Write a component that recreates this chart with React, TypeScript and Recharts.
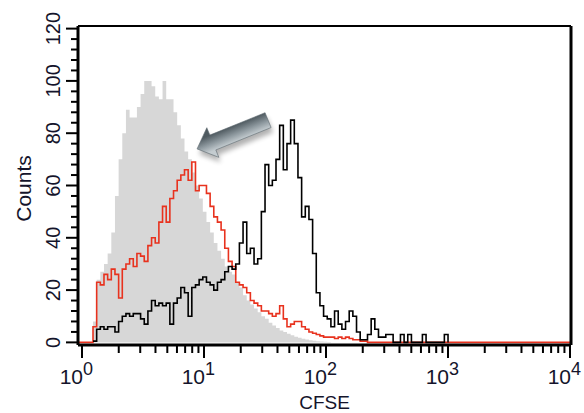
import React from "react";
import { ComposedChart, Area, Line, XAxis, YAxis, ReferenceLine, Label } from "recharts";

// channels are equal-width bins on a log10 axis
const binStep = 0.03;

// unstained / undivided control (grey fill)
const control = [
  0, 0, 0, 8, 24, 27, 30, 34, 42, 56,
  70, 80, 89, 86, 86, 90, 95, 100, 100, 98,
  94, 93, 100, 93, 93, 88, 83, 78, 73, 70,
  65, 60, 55, 50, 46, 42, 38, 35, 32, 29,
  27, 26, 23, 21, 18, 16, 14.5, 13, 11.5, 10,
  9, 7.5, 6.5, 5.5, 4.5, 4, 3.3, 2.7, 2.2, 1.8,
  1.4, 1.1, 0.8, 0.6, 0.4, 0.3, 0.2, 0.1, 0, 0,
  0, 0, 0, 0, 0, 0, 0, 0, 0, 0,
  0, 0, 0, 0, 0, 0, 0, 0, 0, 0,
  0, 0, 0, 0, 0, 0, 0, 0, 0, 0,
  0,
];

// treated sample (red)
const treated = [
  0, 0, 0, 6, 23, 22, 26, 24, 28, 26,
  17, 28, 30, 32, 29, 34, 33, 31, 37, 40,
  38, 46, 52, 46, 55, 58, 62, 64, 66, 62,
  69, 58, 60, 60, 57, 52, 48, 46, 43, 36,
  31, 29, 23, 22, 21, 19, 16, 15, 14, 12,
  12, 11, 10, 11, 14, 9, 6, 7, 8, 8,
  6, 5, 4, 3.5, 3, 2.5, 2, 2, 2, 1.5,
  2, 1.5, 2, 1.5, 1, 1, 0.5, 0.5, 0, 0,
  0, 0, 0, 0, 0, 0, 0, 0, 0, 0,
  0, 0, 0, 0, 0, 0, 0, 0, 0, 0,
  0,
];

// untreated sample (black)
const untreated = [
  null, null, null, 0.5, 5, 6, 5, 6, 6, 4,
  8, 10, 11, 10, 11, 11, 9, 7, 12, 16,
  14, 15, 14, 15, 7, 15, 17, 21, 19, 10,
  21, 22, 24, 25, 23, 22, 20, 23, 24, 27,
  29, 28, 30, 38, 46, 34, 36, 30, 32, 50,
  68, 60, 62, 70, 83, 66, 76, 85, 76, 63,
  48, 52, 47, 34, 19, 14, 10, 9, 6, 12,
  7, 5, 8, 12, 10, 4, 1, 1, 3, 9,
  5, 2, 2, 3, 3, 0, 0, 3, 0, 3,
  0, 0, 0, 3, 0, 0, 0, 0, 0, 3,
  0,
];

const decades = [0, 1, 2, 3, 4];
const minorMultipliers = [2, 3, 4, 5, 6, 7, 8, 9];
const yMajorTicks = [0, 20, 40, 60, 80, 100, 120];
const yMinorStep = 4;

const arrowTail = { x: 1.525, y: 85 };
const arrowTip = { x: 0.943, y: 74 };

const X_MIN = -0.033;
const X_MAX = 4.008;
const Y_MIN = -1;
const Y_MAX = 121;

const font = "'Liberation Sans', Arial, Helvetica, sans-serif";
const ink = "#14142b";

const data = [
  { x: X_MIN, red: 0 },
  ...control.map((g, i) => ({ x: +(i * binStep).toFixed(3), gray: g, red: treated[i], black: untreated[i] })),
  { x: X_MAX, red: 0 },
];

const xTicks = [
  ...decades,
  ...decades.slice(0, -1).flatMap((d) => minorMultipliers.map((m) => d + Math.log10(m))),
].sort((a, b) => a - b);

const yTicks = Array.from({ length: yMajorTicks[yMajorTicks.length - 1] / yMinorStep + 1 }, (_, i) => i * yMinorStep);

const XTick = (props: any) => {
  const { x, y, payload } = props;
  const v = payload.value;
  const major = Math.abs(v - Math.round(v)) < 1e-6;
  return (
    <g>
      <line x1={x} x2={x} y1={y} y2={y + (major ? 13 : 8)} stroke="#000" strokeWidth={2} />
      {major && (
        <g fill={ink} fontFamily={font}>
          <text x={x + 1} y={y + 39} textAnchor="end" fontSize={21}>
            10
          </text>
          <text x={x + 1} y={y + 30} textAnchor="start" fontSize={18}>
            {Math.round(v)}
          </text>
        </g>
      )}
    </g>
  );
};

const YTick = (props: any) => {
  const { x, y, payload } = props;
  const major = yMajorTicks.includes(payload.value);
  const tx = x - 18;
  return (
    <g>
      <line x1={x - (major ? 12 : 7)} x2={x} y1={y} y2={y} stroke="#000" strokeWidth={2} />
      {major && (
        <text x={tx} y={y} transform={`rotate(-90 ${tx} ${y})`} textAnchor="middle" fontSize={20} fill={ink} fontFamily={font}>
          {payload.value}
        </text>
      )}
    </g>
  );
};

const ArrowShape = (p: any) => {
  const { x1, y1, x2, y2 } = p;
  const dx = x2 - x1;
  const dy = y2 - y1;
  const len = Math.hypot(dx, dy);
  const ux = dx / len;
  const uy = dy / len;
  const nx = uy;
  const ny = -ux;
  const hw = 8;
  const hh = 16;
  const hl = 17;
  const kx = x2 - ux * hl;
  const ky = y2 - uy * hl;
  const pts = [
    [x1 + nx * hw, y1 + ny * hw],
    [kx + nx * hw, ky + ny * hw],
    [kx + nx * hh, ky + ny * hh],
    [x2, y2],
    [kx - nx * hh, ky - ny * hh],
    [kx - nx * hw, ky - ny * hw],
    [x1 - nx * hw, y1 - ny * hw],
  ]
    .map((q) => q.join(","))
    .join(" ");
  const cx = (x1 + x2) / 2;
  const cy = (y1 + y2) / 2;
  return (
    <g>
      <defs>
        <linearGradient id="arrowFill" gradientUnits="userSpaceOnUse" x1={cx + nx * hw} y1={cy + ny * hw} x2={cx - nx * hw} y2={cy - ny * hw}>
          <stop offset="0%" stopColor="#c4ccd0" />
          <stop offset="45%" stopColor="#8f9aa0" />
          <stop offset="100%" stopColor="#4f5a60" />
        </linearGradient>
        <filter id="arrowShadow" x="-30%" y="-30%" width="160%" height="160%">
          <feGaussianBlur stdDeviation="2.5" />
        </filter>
      </defs>
      <polygon points={pts} fill="#000" opacity={0.3} transform="translate(2,5)" filter="url(#arrowShadow)" />
      <polygon points={pts} fill="url(#arrowFill)" stroke="#5d686e" strokeWidth={0.6} strokeLinejoin="round" />
    </g>
  );
};

export default function App() {
  return (
    <div style={{ position: "absolute", left: 0, top: 0, width: 584, height: 413, background: "#fff" }}>
      <ComposedChart width={584} height={413} data={data} margin={{ top: 26, right: 13, left: 0, bottom: 0 }}>
        <XAxis
          dataKey="x"
          type="number"
          domain={[X_MIN, X_MAX]}
          ticks={xTicks}
          interval={0}
          height={68}
          tickSize={0}
          tickMargin={0}
          tickLine={false}
          tick={<XTick />}
          axisLine={{ stroke: "#000", strokeWidth: 3 }}
          allowDataOverflow
        >
          <Label
            content={(lp: any) => {
              const vb = lp.viewBox;
              return (
                <text x={vb.x + vb.width / 2} y={vb.y + 64} textAnchor="middle" fontSize={19} fill={ink} fontFamily={font}>
                  CFSE
                </text>
              );
            }}
          />
        </XAxis>
        <YAxis
          type="number"
          domain={[Y_MIN, Y_MAX]}
          ticks={yTicks}
          interval={0}
          width={78}
          tickSize={0}
          tickMargin={0}
          tickLine={false}
          tick={<YTick />}
          axisLine={{ stroke: "#000", strokeWidth: 3 }}
          allowDataOverflow
        >
          <Label
            content={(lp: any) => {
              const vb = lp.viewBox;
              const cy = vb.y + vb.height / 2 + 3;
              return (
                <text x={31} y={cy} transform={`rotate(-90 31 ${cy})`} textAnchor="middle" fontSize={21} fill={ink} fontFamily={font}>
                  Counts
                </text>
              );
            }}
          />
        </YAxis>
        <Area type="stepAfter" dataKey="gray" fill="#d7d7d7" fillOpacity={1} stroke="none" isAnimationActive={false} />
        <Line type="stepAfter" dataKey="red" stroke="#e8321e" strokeWidth={1.6} dot={false} isAnimationActive={false} />
        <Line type="stepAfter" dataKey="black" stroke="#000" strokeWidth={1.6} dot={false} isAnimationActive={false} />
        <ReferenceLine y={Y_MAX} stroke="#000" strokeWidth={2} />
        <ReferenceLine x={X_MAX} stroke="#000" strokeWidth={3} />
        <ReferenceLine segment={[arrowTail, arrowTip]} ifOverflow="visible" shape={<ArrowShape />} />
      </ComposedChart>
    </div>
  );
}
